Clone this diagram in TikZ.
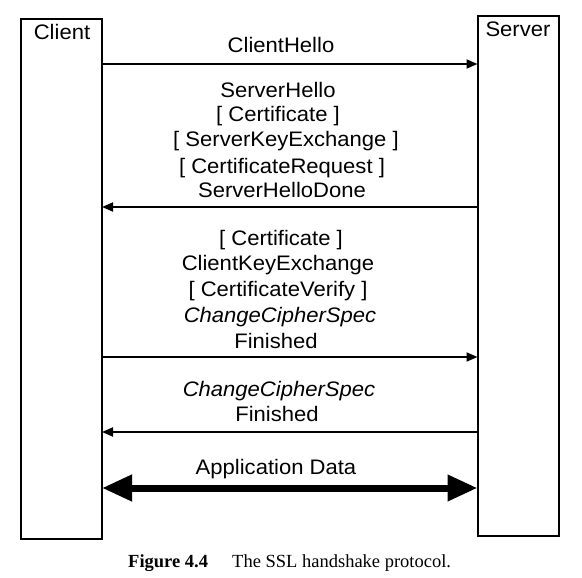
\documentclass[tikz,border=0pt]{standalone}
\usepackage{fontspec}
\setmainfont{Liberation Sans}[FakeStretch=1.05]
\newfontfamily\capfont{Liberation Serif}
\usetikzlibrary{arrows.meta}
\begin{document}
\begin{tikzpicture}[x=1pt,y=-1pt,
  party/.style={draw, line width=2pt, minimum width=81pt, minimum height=520pt, inner sep=0pt, outer sep=0pt},
  lbl/.style={anchor=base, inner sep=0pt, font=\fontsize{21}{25}\selectfont},
  msg/.style={line width=1.8pt, -{Triangle[length=11pt,width=9pt]}},
  big/.style={line width=7pt, {Triangle[length=30pt,width=25pt]}-{Triangle[length=30pt,width=25pt]}},
  caption/.style={anchor=base west, inner sep=0pt, font=\capfont\fontsize{18.5}{22}\selectfont},
]
\useasboundingbox (0,0) rectangle (582,578);
\node[party] (client) at (61.5,279) {};
\node[party] (server) at (518,276) {};
\node[lbl] (clientlbl) at (62,40) {Client};
\node[lbl] (serverlbl) at (518,36.5) {Server};

% message 1
\node[lbl] (m1a) at (281,52.5) {ClientHello};
\draw[msg] (client.east |- 0,64) -- (server.west |- 0,64);

% message 2
\node[lbl] (m2a) at (278,97.5) {ServerHello};
\node[lbl] (m2b) at (278,122) {[ Certificate ]};
\node[lbl] (m2c) at (286,146.5) {[ ServerKeyExchange ]};
\node[lbl] (m2d) at (282,173.5) {[ CertificateRequest ]};
\node[lbl] (m2e) at (282,197.5) {ServerHelloDone};
\draw[msg] (server.west |- 0,207) -- (client.east |- 0,207);

% message 3
\node[lbl] (m3a) at (281,245.5) {[ Certificate ]};
\node[lbl] (m3b) at (278,270.5) {ClientKeyExchange};
\node[lbl] (m3c) at (278,296.5) {[ CertificateVerify ]};
\node[lbl] (m3d) at (280,322.5) {\itshape ChangeCipherSpec};
\node[lbl] (m3e) at (276,348.5) {Finished};
\draw[msg] (client.east |- 0,357) -- (server.west |- 0,357);

% message 4
\node[lbl] (m4a) at (279,396.5) {\itshape ChangeCipherSpec};
\node[lbl] (m4b) at (277,421.5) {Finished};
\draw[msg] (server.west |- 0,432) -- (client.east |- 0,432);

% application data
\node[lbl] (m5a) at (276,474) {Application Data};
\draw[big] (client.east |- 0,488) -- (server.west |- 0,488);

% caption
\node[caption] (capa) at (128,567.5) {\bfseries Figure 4.4};
\node[caption] (capb) at (232,567.5) {The SSL handshake protocol.};
\end{tikzpicture}
\end{document}
